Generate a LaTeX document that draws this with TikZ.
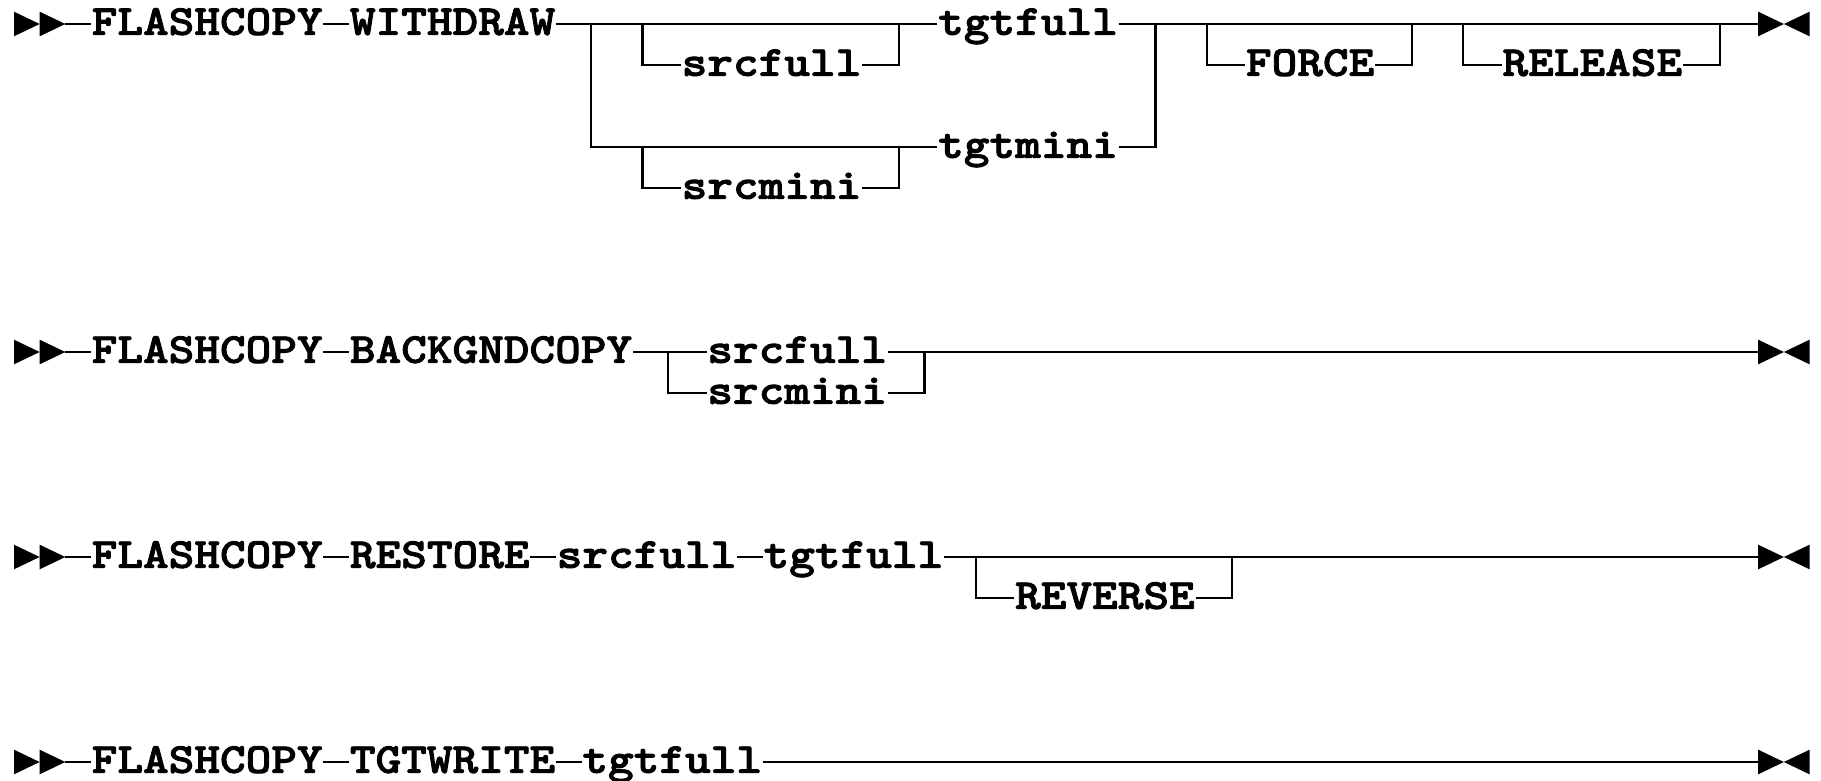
\documentclass[tikz,border=0pt]{standalone}
\usepackage{fontspec}
\newfontfamily\railfont{lmmonolt10-bold.otf}[FakeStretch=1.1429, FakeBold=2]
\usepackage{tikz}
\usetikzlibrary{positioning}

\tikzset{
    startmark/.pic={
        \fill (0,-0.3) -- (0,0.3) -- (1,0) -- cycle;
        \fill (1,-0.3) -- (1,0.3) -- (2,0) -- cycle;
    },
    endmark/.pic={
        \fill (0,-0.3) -- (0,0.3) -- (1,0) -- cycle;
        \fill (2,-0.3) -- (2,0.3) -- (1,0) -- cycle;
    }
}

\begin{document}
\begin{tikzpicture}[
    x=6.4125pt, y=-10.25pt,
    node distance=6.4125pt,
    kw/.style={font=\fontsize{10.69}{12}\railfont, inner sep=0pt, text height=8pt, text depth=2.6pt},
    rail/.style={line width=0.55pt}
]
    \useasboundingbox (-3.5pt,6pt) rectangle (451.75pt,-189.25pt);

    % FLASHCOPY WITHDRAW
    \pic at (0,0) {startmark};
    \coordinate (r1in) at (2,0);
    \node[kw, anchor=west] (r1flash) at (3,0) {FLASHCOPY};
    \node[kw, right=of r1flash] (r1withdraw) {WITHDRAW};
    \node[kw, anchor=west] (r1srcfull) at (26,1) {srcfull};
    \node[kw, anchor=west] (r1tgtfull) at (36,0) {tgtfull};
    \node[kw, anchor=west] (r1srcmini) at (26,4) {srcmini};
    \node[kw, anchor=west] (r1tgtmini) at (36,3) {tgtmini};
    \node[kw, anchor=west] (r1force) at (48,1) {FORCE};
    \node[kw, anchor=west] (r1release) at (58,1) {RELEASE};
    \coordinate (r1fork) at (22.5,0);
    \coordinate (r1join) at (44.5,0);
    \coordinate (r1s1) at (24.5,0);
    \coordinate (r1s2) at (34.5,0);
    \coordinate (r1m1) at (24.5,3);
    \coordinate (r1m2) at (34.5,3);
    \coordinate (r1f1) at (46.5,0);
    \coordinate (r1f2) at (54.5,0);
    \coordinate (r1r1) at (56.5,0);
    \coordinate (r1r2) at (66.5,0);
    \coordinate (r1out) at (68,0);
    \pic at (r1out) {endmark};

    \draw[rail] (r1in) -- (r1flash) -- (r1withdraw) -- (r1tgtfull) -- (r1out);
    \draw[rail] (r1fork) |- (r1tgtmini) -| (r1join);
    \draw[rail] (r1s1) |- (r1srcfull) -| (r1s2);
    \draw[rail] (r1m1) |- (r1srcmini) -| (r1m2);
    \draw[rail] (r1f1) |- (r1force) -| (r1f2);
    \draw[rail] (r1r1) |- (r1release) -| (r1r2);

    % FLASHCOPY BACKGNDCOPY
    \pic at (0,8) {startmark};
    \coordinate (r2in) at (2,8);
    \node[kw, anchor=west] (r2flash) at (3,8) {FLASHCOPY};
    \node[kw, right=of r2flash] (r2backgnd) {BACKGNDCOPY};
    \node[kw, anchor=west] (r2srcfull) at (27,8) {srcfull};
    \node[kw, anchor=west] (r2srcmini) at (27,9) {srcmini};
    \coordinate (r2fork) at (25.5,8);
    \coordinate (r2join) at (35.5,8);
    \coordinate (r2out) at (68,8);
    \pic at (r2out) {endmark};

    \draw[rail] (r2in) -- (r2flash) -- (r2backgnd) -- (r2srcfull) -- (r2out);
    \draw[rail] (r2fork) |- (r2srcmini) -| (r2join);

    % FLASHCOPY RESTORE
    \pic at (0,13) {startmark};
    \coordinate (r3in) at (2,13);
    \node[kw, anchor=west] (r3flash) at (3,13) {FLASHCOPY};
    \node[kw, right=of r3flash] (r3restore) {RESTORE};
    \node[kw, right=of r3restore] (r3srcfull) {srcfull};
    \node[kw, right=of r3srcfull] (r3tgtfull) {tgtfull};
    \node[kw, anchor=west] (r3reverse) at (39,14) {REVERSE};
    \coordinate (r3fork) at (37.5,13);
    \coordinate (r3join) at (47.5,13);
    \coordinate (r3out) at (68,13);
    \pic at (r3out) {endmark};

    \draw[rail] (r3in) -- (r3flash) -- (r3restore) -- (r3srcfull) -- (r3tgtfull) -- (r3out);
    \draw[rail] (r3fork) |- (r3reverse) -| (r3join);

    % FLASHCOPY TGTWRITE
    \pic at (0,18) {startmark};
    \coordinate (r4in) at (2,18);
    \node[kw, anchor=west] (r4flash) at (3,18) {FLASHCOPY};
    \node[kw, right=of r4flash] (r4tgtwrite) {TGTWRITE};
    \node[kw, right=of r4tgtwrite] (r4tgtfull) {tgtfull};
    \coordinate (r4out) at (68,18);
    \pic at (r4out) {endmark};

    \draw[rail] (r4in) -- (r4flash) -- (r4tgtwrite) -- (r4tgtfull) -- (r4out);
\end{tikzpicture}
\end{document}
